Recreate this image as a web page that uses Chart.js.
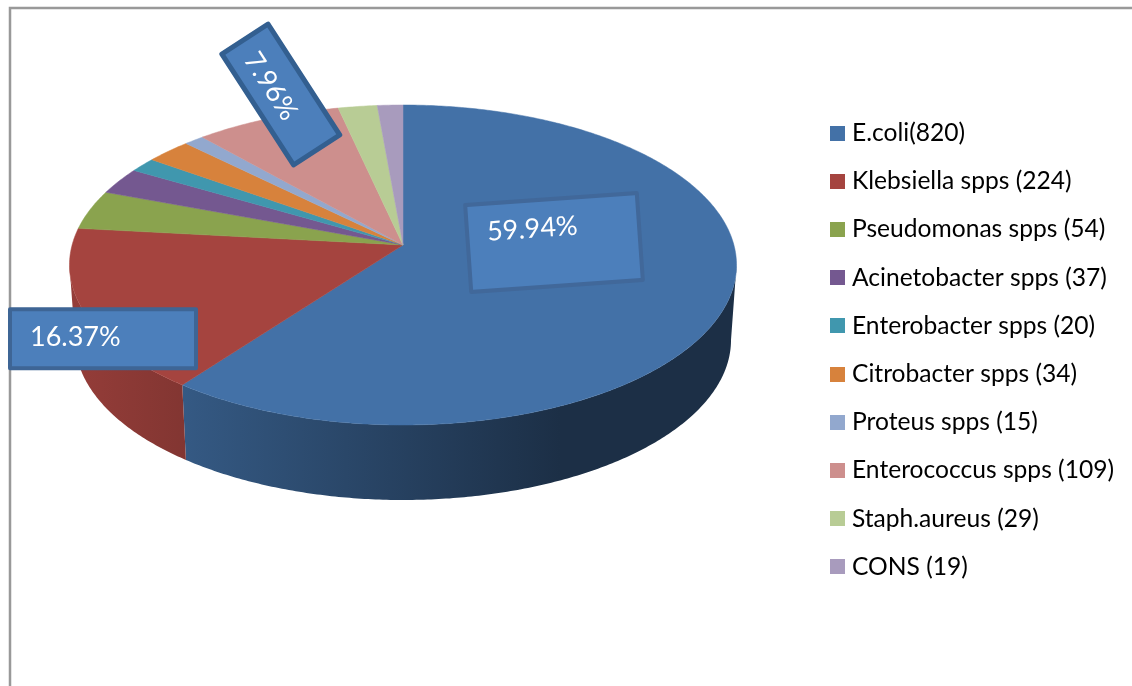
<!DOCTYPE html>
<html>
<head>
<meta charset="utf-8">
<title>Isolates</title>
<style>
    html, body { margin: 0; padding: 0; background: #fff; }
    canvas { display: block; }
</style>
<script src="https://cdn.jsdelivr.net/npm/chart.js@4/dist/chart.umd.min.js"></script>
</head>
<body>
<canvas id="chart-1" width="1132" height="686"></canvas>
<script>
var organisms = ['E.coli(820)', 'Klebsiella spps (224)', 'Pseudomonas spps (54)', 'Acinetobacter spps (37)',
    'Enterobacter spps (20)', 'Citrobacter spps (34)', 'Proteus spps (15)', 'Enterococcus spps (109)',
    'Staph.aureus (29)', 'CONS (19)'];
var isolates = [820, 224, 54, 37, 20, 34, 15, 109, 29, 19];
var sliceColors = ['#4371a7', '#a5443f', '#8aa34e', '#745890', '#4097ae', '#d7823c', '#92a8ce', '#cd8f8d', '#b8cc95', '#a89bbd'];

var calloutSlices = [0, 1, 7];
var calloutTexts = ['59.94%', '16.37%', '7.96%'];

// tilted pie: unit disc projected with a vanishing term so the apex sits above the ellipse centre
var pieView = { x: 403, y: 245, kx: 330.9, ky: 126.875, persp: -0.125, depth: 75, wallScale: 0.9835 };

// box centre, size, rotation, border, text inset and vertical text shift
var calloutBoxes = [
    { cx: 554, cy: 242.5, w: 172, h: 87, rot: -4, border: 4, inset: 20, dy: -15, stroke: '#41689a' },
    { cx: 103, cy: 338.7, w: 186, h: 59, rot: 0, border: 4, inset: 20, dy: -1, stroke: '#3e6595' },
    { cx: 280.8, cy: 94.5, w: 132, h: 55, rot: 57.1, border: 5, inset: 16, dy: 4, stroke: '#335f90' }
];

function faceX(a) {
    return pieView.x + pieView.kx * Math.cos(a) / (1 + pieView.persp * Math.sin(a));
}

function faceY(a) {
    return (pieView.ky * Math.sin(a) + pieView.y) / (1 + pieView.persp * Math.sin(a));
}

function wallX(a) {
    return pieView.x + (faceX(a) - pieView.x) * pieView.wallScale;
}

function wallY(a) {
    return faceY(a) + pieView.depth;
}

function shade(hex, f) {
    var n = parseInt(hex.slice(1), 16);
    var r = Math.round((n >> 16) * f), g = Math.round(((n >> 8) & 255) * f), b = Math.round((n & 255) * f);
    return 'rgb(' + r + ',' + g + ',' + b + ')';
}

function arcSteps(start, end) {
    var steps = [];
    var n = Math.max(2, Math.ceil((end - start) / 0.01));
    for (var i = 0; i <= n; i++) {
        steps.push(start + (end - start) * i / n);
    }
    return steps;
}

// only the front of the rim shows, between the two points of widest x
function drawWall(ctx, arc, color) {
    var rimStart = Math.asin(-pieView.persp);
    var rimEnd = Math.PI - rimStart;
    var start = Math.max(arc.startAngle, rimStart);
    var end = Math.min(arc.endAngle, rimEnd);
    if (end <= start) {
        return;
    }
    var steps = arcSteps(start, end);
    var grad = ctx.createLinearGradient(70, 0, 560, 0);
    grad.addColorStop(0, shade(color, 0.9));
    grad.addColorStop(1, shade(color, 0.42));
    ctx.beginPath();
    steps.forEach(function(a, i) {
        if (i == 0) ctx.moveTo(faceX(a), faceY(a));
        else ctx.lineTo(faceX(a), faceY(a));
    });
    steps.reverse().forEach(function(a) {
        ctx.lineTo(wallX(a), wallY(a));
    });
    ctx.closePath();
    ctx.fillStyle = grad;
    ctx.fill();
}

function drawFace(ctx, arc, color) {
    ctx.beginPath();
    ctx.moveTo(pieView.x, pieView.y);
    arcSteps(arc.startAngle, arc.endAngle).forEach(function(a) {
        ctx.lineTo(faceX(a), faceY(a));
    });
    ctx.closePath();
    ctx.fillStyle = color;
    ctx.strokeStyle = color;
    ctx.lineWidth = 0.5;
    ctx.fill();
    ctx.stroke();
}

function drawCallout(ctx, box, text) {
    ctx.save();
    ctx.translate(box.cx, box.cy);
    ctx.rotate(box.rot * Math.PI / 180);
    ctx.fillStyle = '#4c7fbb';
    ctx.strokeStyle = box.stroke;
    ctx.lineWidth = box.border;
    ctx.lineJoin = 'round';
    ctx.fillRect(-box.w / 2, -box.h / 2, box.w, box.h);
    ctx.strokeRect(-box.w / 2, -box.h / 2, box.w, box.h);
    ctx.fillStyle = '#fff';
    ctx.font = '27px Lato';
    ctx.textAlign = 'left';
    ctx.textBaseline = 'middle';
    ctx.fillText(text, -box.w / 2 + box.inset, box.dy);
    ctx.restore();
}

var tiltedPie = {
    id: 'tiltedPie',
    beforeDraw: function(chart) {
        // sheet frame, top and left edges only
        var ctx = chart.ctx;
        ctx.save();
        ctx.strokeStyle = '#999';
        ctx.lineWidth = 2.5;
        ctx.beginPath();
        ctx.moveTo(10, 686);
        ctx.lineTo(10, 8);
        ctx.lineTo(1132, 8);
        ctx.stroke();
        ctx.restore();
    },
    beforeDatasetsDraw: function(chart) {
        var ctx = chart.ctx;
        var arcs = chart.getDatasetMeta(0).data;
        ctx.save();
        arcs.forEach(function(arc, i) {
            drawWall(ctx, arc, sliceColors[i]);
        });
        arcs.forEach(function(arc, i) {
            drawFace(ctx, arc, sliceColors[i]);
        });
        calloutSlices.forEach(function(slice, i) {
            drawCallout(ctx, calloutBoxes[i], calloutTexts[i]);
        });
        ctx.restore();
        return false;
    }
};

// legend swatches as small canvases, wider than the slot so the text sits closer
function swatch(color) {
    var c = document.createElement('canvas');
    c.width = 15;
    c.height = 15;
    var g = c.getContext('2d');
    g.fillStyle = color;
    g.fillRect(0, 0, 15, 15);
    return c;
}

var pieChart = new Chart(document.getElementById('chart-1'), {
    type: 'pie',
    data: {
        labels: organisms,
        datasets: [{
            data: isolates,
            backgroundColor: sliceColors,
            borderWidth: 0
        }]
    },
    options: {
        responsive: false,
        animation: false,
        layout: { padding: { top: 14, right: 8 } },
        plugins: {
            tooltip: { enabled: false },
            legend: {
                position: 'right',
                labels: {
                    color: '#222',
                    font: { family: 'Lato', size: 24.6 },
                    usePointStyle: true,
                    pointStyleWidth: 5,
                    boxHeight: 15,
                    padding: 23.6,
                    generateLabels: function() {
                        return organisms.map(function(name, i) {
                            return { text: name, pointStyle: swatch(sliceColors[i]), fillStyle: sliceColors[i], lineWidth: 0, index: i };
                        });
                    }
                }
            }
        }
    },
    plugins: [tiltedPie]
});
</script>
</body>
</html>
